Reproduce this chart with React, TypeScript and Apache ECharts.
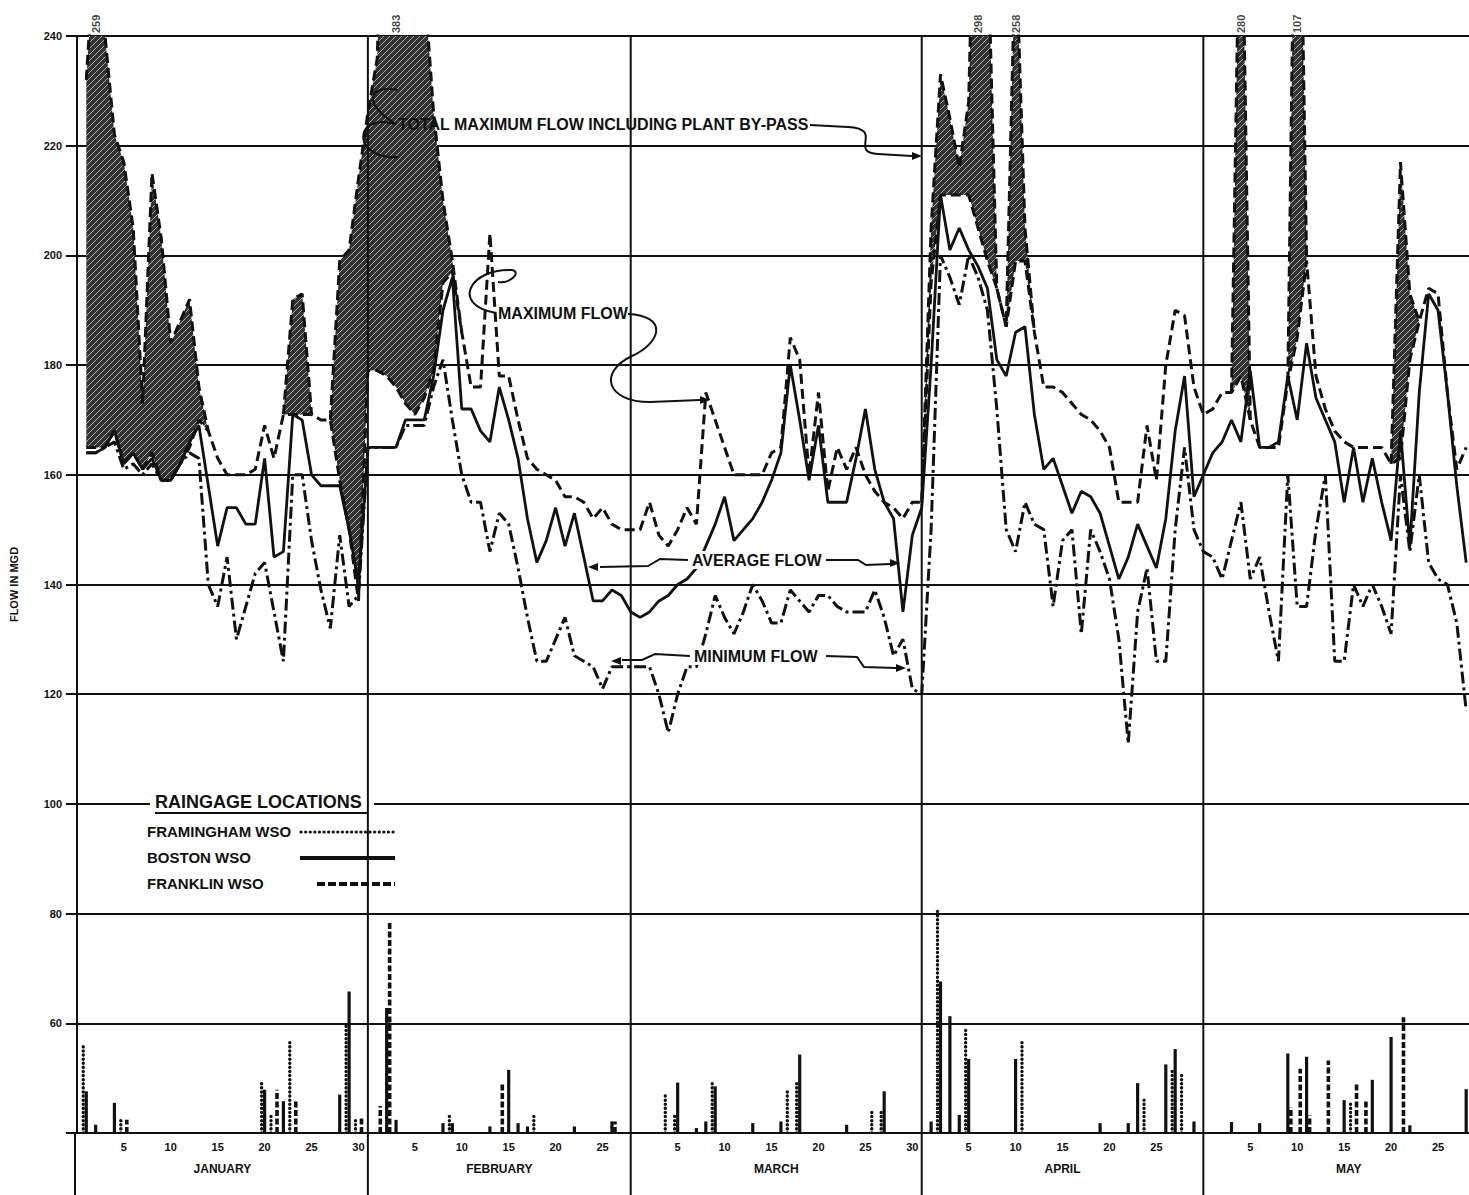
import React, { useEffect, useRef } from "react";
import * as echarts from "echarts";

// ---------- axes / calendar ----------
const monthNames = ["JANUARY", "FEBRUARY", "MARCH", "APRIL", "MAY"];
const monthLengths = [31, 28, 31, 30, 31];
const dayTickSteps = [5, 10, 15, 20, 25, 30];
const yMin = 40;
const yMax = 240;
const yStep = 20;
const xMin = -0.2;
const xMax = 148.3;
const rainBase = 40;

// ---------- flow series (MGD), one value per day from Jan 1 ----------
const totalMaxFlow = [
  // Jan
  232, 259, 240, 222, 217, 205, 173, 215, 203, 184, 188, 192, 176, 168, 163, 160, 160, 160, 161, 169, 163, 171, 192, 193, 171, 170, 170, 199, 201, 214, 226,
  // Feb
  236, 300, 383, 330, 280, 250, 226, 210, 199, 186, 176, 176, 204, 178, 178, 170, 163, 161, 160, 159, 156, 156, 155, 152, 154, 151, 150, 150,
  // Mar
  150, 155, 149, 147, 150, 154, 151, 175, 170, 165, 160, 160, 160, 160, 164, 165, 185, 181, 160, 175, 157, 165, 161, 165, 160, 157, 155, 154, 152, 155, 155,
  // Apr
  205, 233, 225, 216, 228, 298, 260, 194, 187, 258, 205, 186, 176, 176, 175, 173, 171, 170, 168, 165, 155, 155, 155, 169, 159, 180, 190, 189, 176, 171,
  // May
  172, 175, 175, 280, 170, 165, 165, 165, 177, 307, 199, 178, 172, 168, 166, 165, 165, 165, 165, 162, 217, 193, 188, 194, 193, 175, 161, 165,
];
const maxFlow = [
  165, 165, 165, 168, 162, 164, 161, 164, 159, 159, 162, 165, 170, 168, 163, 160, 160, 160, 161, 169, 163, 171, 171, 171, 171, 170, 170, 159, 150, 137, 179,
  179, 178, 176, 173, 171, 174, 179, 195, 197, 186, 176, 176, 204, 178, 178, 170, 163, 161, 160, 159, 156, 156, 155, 152, 154, 151, 150, 150,
  150, 155, 149, 147, 150, 154, 151, 175, 170, 165, 160, 160, 160, 160, 164, 165, 185, 181, 160, 175, 157, 165, 161, 165, 160, 157, 155, 154, 152, 155, 155,
  195, 211, 211, 211, 211, 205, 199, 194, 187, 199, 199, 186, 176, 176, 175, 173, 171, 170, 168, 165, 155, 155, 155, 169, 159, 180, 190, 189, 176, 171,
  172, 175, 175, 178, 170, 165, 165, 165, 177, 185, 199, 178, 172, 168, 166, 165, 165, 165, 165, 162, 163, 181, 188, 194, 193, 175, 161, 165,
];
const averageFlow = [
  164, 164, 165, 168, 162, 164, 161, 163, 159, 159, 162, 166, 169, 158, 147, 154, 154, 151, 151, 163, 145, 146, 171, 170, 160, 158, 158, 158, 150, 140, 165,
  165, 165, 165, 170, 170, 170, 178, 190, 196, 172, 172, 168, 166, 176, 170, 163, 152, 144, 148, 154, 147, 153, 145, 137, 137, 139, 138, 135,
  134, 135, 137, 138, 140, 141, 143, 147, 151, 156, 148, 150, 152, 155, 159, 164, 180, 170, 159, 169, 155, 155, 155, 163, 172, 161, 155, 152, 135, 149, 154,
  180, 211, 201, 205, 201, 198, 194, 181, 178, 186, 187, 171, 161, 163, 158, 153, 157, 156, 153, 147, 141, 145, 151, 147, 143, 152, 168, 178, 156, 160,
  164, 166, 170, 166, 179, 165, 165, 166, 178, 170, 184, 174, 170, 166, 155, 165, 155, 163, 155, 148, 168, 147, 175, 193, 190, 175, 158, 144,
];
const minimumFlow = [
  164, 164, 165, 166, 161, 162, 160, 162, 159, 159, 162, 164, 163, 140, 136, 145, 130, 136, 142, 144, 135, 126, 160, 160, 148, 139, 132, 149, 136, 138, 165,
  165, 165, 165, 169, 169, 169, 176, 181, 170, 160, 155, 155, 146, 153, 151, 143, 134, 126, 126, 130, 134, 127, 126, 125, 121, 125, 125, 125,
  125, 125, 120, 113, 120, 125, 125, 131, 138, 134, 131, 135, 140, 137, 133, 133, 139, 137, 135, 138, 138, 136, 135, 135, 135, 139, 134, 127, 130, 121, 120,
  150, 200, 196, 191, 200, 196, 190, 172, 150, 146, 155, 151, 150, 136, 148, 150, 131, 150, 146, 141, 130, 111, 135, 143, 126, 126, 150, 165, 150, 146,
  145, 141, 148, 155, 141, 145, 135, 126, 160, 136, 136, 150, 160, 126, 126, 140, 136, 140, 136, 131, 160, 146, 160, 144, 141, 140, 133, 117,
];

// off-scale peaks printed above the frame
const peakDays = [2, 34, 96, 100, 124, 130];
const peakLabels = ["259", "383", "298", "258", "280", "107"];

// ---------- raingage bars: [day of year, height above baseline] ----------
const framinghamRain = [
  [1, 15.8], [5, 2.4], [20, 9.1], [21, 3.6], [23, 17], [29, 20], [30, 2.7], [40, 3.6], [49, 3.3],
  [63, 7.3], [64, 3.0], [68, 9.7], [76, 7.6], [77, 9.1], [85, 4.0], [86, 4.0],
  [92, 41], [95, 19.1], [101, 17], [114, 6.7], [117, 11.5], [118, 10.6], [136, 5.3],
];
const bostonRain = [
  [1, 7.6], [2, 1.5], [4, 5.5], [20, 7.9], [22, 5.8], [28, 7], [29, 25.8],
  [33, 22.8], [34, 2.4], [39, 1.8], [40, 1.8], [44, 1.2], [46, 11.5], [47, 1.8], [48, 1.2], [53, 1.2], [57, 2.1],
  [64, 9.2], [66, 0.9], [67, 2.1], [68, 8.5], [72, 1.8], [75, 2.1], [77, 14.3], [82, 1.5], [86, 7.6], [91, 2.1],
  [92, 27.6], [93, 21.3], [94, 3.3], [95, 13.5], [100, 13.5], [109, 1.8], [112, 1.8], [113, 9.1], [116, 12.5], [117, 15.3], [119, 2.1],
  [123, 2], [126, 1.8], [129, 14.5], [131, 13.9], [135, 6], [138, 9.7], [140, 17.5], [142, 1.4], [148, 8],
];
const franklinRain = [
  [5, 2.4], [21, 7.9], [23, 6.1], [30, 2.7], [32, 4.9], [33, 38.3], [45, 9.1], [57, 2.1],
  [129, 4.7], [130, 11.7], [131, 3.2], [133, 13.2], [136, 9], [137, 6], [141, 21.1],
];

const INK = "#111111";
const FONT = "'Liberation Sans', Arial, sans-serif";

function makeHatch() {
  const c = document.createElement("canvas");
  c.width = 6;
  c.height = 6;
  const g = c.getContext("2d")!;
  g.fillStyle = "#333333";
  g.fillRect(0, 0, 6, 6);
  g.strokeStyle = "#a8a8a8";
  g.lineWidth = 1;
  g.beginPath();
  g.moveTo(0, 6);
  g.lineTo(6, 0);
  g.moveTo(-1, 1);
  g.lineTo(1, -1);
  g.moveTo(5, 7);
  g.lineTo(7, 5);
  g.stroke();
  return c.toDataURL();
}

export default function App() {
  const ref = useRef<HTMLDivElement>(null);

  useEffect(() => {
    const el = ref.current!;
    const chart = echarts.init(el, null, { renderer: "svg" });

    const monthStarts: number[] = [];
    monthLengths.reduce((acc, len) => {
      monthStarts.push(acc);
      return acc + len;
    }, 0);
    const dayTickValues: number[] = [];
    const dayTickText: Record<string, string> = {};
    monthStarts.forEach((s, m) => {
      dayTickSteps.forEach((t) => {
        if (t < monthLengths[m] && s + t <= xMax) {
          dayTickValues.push(s + t);
          dayTickText[String(s + t)] = String(t);
        }
      });
    });
    const monthMids = monthStarts.map((s, m) => s + monthLengths[m] / 2);
    const monthBoundaries = monthStarts.slice(1);

    const days = totalMaxFlow.map((_, i) => i + 1);
    const n = days.length;
    const hasBypass = (i: number) => i >= 0 && i < n && totalMaxFlow[i] > maxFlow[i];
    const totalLine = days.map((d, i) =>
      hasBypass(i) || hasBypass(i - 1) || hasBypass(i + 1) ? [d, totalMaxFlow[i]] : [d, null]
    );
    // contiguous by-pass runs (index ranges), widened by one day to meet the max-flow line
    const bypassRuns: number[][] = [];
    for (let i = 0; i < n; ) {
      if (hasBypass(i)) {
        let j = i;
        while (j + 1 < n && hasBypass(j + 1)) j++;
        bypassRuns.push([Math.max(0, i - 1), Math.min(n - 1, j + 1)]);
        i = j + 1;
      } else i++;
    }

    const hatch = makeHatch();
    const hatchFill = { image: hatch, repeat: "repeat", imageWidth: 6, imageHeight: 6 };

    const rainSeries = (name: string, data: number[][], offset: number, dash: number[] | null, width: number, cap: string) => ({
      type: "custom",
      name,
      data,
      z: 4,
      clip: true,
      renderItem: (_p: any, api: any) => {
        const base = api.coord([api.value(0), rainBase]);
        const top = api.coord([api.value(0), rainBase + api.value(1)]);
        return {
          type: "line",
          shape: { x1: base[0] + offset, y1: base[1], x2: top[0] + offset, y2: top[1] },
          style: { stroke: INK, lineWidth: width, lineDash: dash, lineCap: cap },
        };
      },
    });

    const axisFont = { color: INK, fontFamily: FONT, fontWeight: "bold" as const };

    const option: any = {
      animation: false,
      backgroundColor: "#ffffff",
      grid: { left: 73, right: 0, top: 36, bottom: 62, containLabel: false },
      xAxis: [
        {
          type: "value",
          min: xMin,
          max: xMax,
          position: "bottom",
          axisLine: { show: true, lineStyle: { color: INK, width: 2 } },
          axisTick: { show: false },
          splitLine: { show: false },
          axisLabel: {
            ...axisFont,
            fontSize: 11,
            margin: 8,
            customValues: dayTickValues,
            formatter: (v: number) => dayTickText[String(v)] ?? "",
          },
        },
        {
          type: "value",
          min: xMin,
          max: xMax,
          position: "bottom",
          offset: 22,
          axisLine: { show: false },
          axisTick: { show: false },
          splitLine: { show: false },
          axisLabel: {
            ...axisFont,
            fontSize: 12,
            margin: 8,
            customValues: monthMids,
            formatter: (v: number) => {
              const idx = monthMids.findIndex((m) => Math.abs(m - v) < 0.01);
              return idx >= 0 ? monthNames[idx] : "";
            },
          },
        },
      ],
      yAxis: {
        type: "value",
        min: yMin,
        max: yMax,
        interval: yStep,
        name: "FLOW IN MGD",
        nameLocation: "middle",
        nameGap: 56,
        nameRotate: 90,
        nameTextStyle: { ...axisFont, fontSize: 11 },
        axisLine: { show: true, lineStyle: { color: INK, width: 2 } },
        axisTick: { show: true, length: 11, lineStyle: { color: INK, width: 2 } },
        axisLabel: {
          ...axisFont,
          fontSize: 11,
          margin: 13,
          formatter: (v: number) => (v === yMin ? "" : String(v)),
        },
        splitLine: { show: true, lineStyle: { color: INK, width: 2 } },
      },
      series: [
        {
          type: "custom",
          name: "plant by-pass",
          data: bypassRuns.map(([a, b]) => [days[a], days[b]]),
          clip: true,
          silent: true,
          z: 1,
          renderItem: (_p: any, api: any) => {
            const a = api.value(0) - 1;
            const b = api.value(1) - 1;
            const pts: number[][] = [];
            for (let k = a; k <= b; k++) pts.push(api.coord([days[k], totalMaxFlow[k]]));
            for (let k = b; k >= a; k--) pts.push(api.coord([days[k], maxFlow[k]]));
            return { type: "polygon", shape: { points: pts }, style: { fill: hatchFill, stroke: null } };
          },
        },
        {
          type: "line",
          name: "Maximum flow",
          data: days.map((d, i) => [d, maxFlow[i]]),
          symbol: "none",
          lineStyle: { color: INK, width: 3, type: [10, 5] },
          z: 3,
        },
        {
          type: "line",
          name: "Average flow",
          data: days.map((d, i) => [d, averageFlow[i]]),
          symbol: "none",
          lineStyle: { color: INK, width: 2.8 },
          z: 3,
        },
        {
          type: "line",
          name: "Minimum flow",
          data: days.map((d, i) => [d, minimumFlow[i]]),
          symbol: "none",
          lineStyle: { color: INK, width: 3, type: [12, 4, 3, 4] },
          z: 3,
        },
        {
          type: "line",
          name: "Total maximum flow",
          data: totalLine,
          connectNulls: false,
          symbol: "none",
          lineStyle: { color: INK, width: 3, type: [10, 5] },
          z: 3,
        },
        {
          type: "scatter",
          name: "peaks",
          data: peakDays.map((d) => [d, yMax]),
          symbolSize: 0,
          clip: false,
          silent: true,
          label: {
            show: true,
            position: "top",
            distance: 3,
            rotate: 90,
            align: "left",
            verticalAlign: "middle",
            formatter: (p: any) => peakLabels[p.dataIndex],
            color: INK,
            fontFamily: FONT,
            fontWeight: "bold",
            fontSize: 11,
            textBorderWidth: 0,
          },
          z: 6,
        },
        rainSeries("FRAMINGHAM WSO", framinghamRain, -3, [0.1, 4], 3.4, "round"),
        rainSeries("BOSTON WSO", bostonRain, 0, null, 3.2, "butt"),
        rainSeries("FRANKLIN WSO", franklinRain, 3, [6, 2.5], 3.6, "butt"),
      ],
    };

    chart.setOption(option);

    const px = (d: number) => chart.convertToPixel({ xAxisIndex: 0 }, d) as number;
    const py = (v: number) => chart.convertToPixel({ yAxisIndex: 0 }, v) as number;
    const topY = py(yMax);
    const baseY = py(yMin);
    const bottomY = 1195;

    const els: any[] = [];
    const line = (x1: number, y1: number, x2: number, y2: number, w = 2, dash: any = null, cap = "butt") =>
      els.push({ type: "line", z: 20, silent: true, shape: { x1, y1, x2, y2 }, style: { stroke: INK, lineWidth: w, lineDash: dash, lineCap: cap } });
    const curve = (x1: number, y1: number, c1x: number, c1y: number, c2x: number, c2y: number, x2: number, y2: number) =>
      els.push({ type: "bezierCurve", z: 20, silent: true, shape: { x1, y1, cpx1: c1x, cpy1: c1y, cpx2: c2x, cpy2: c2y, x2, y2 }, style: { stroke: INK, lineWidth: 2, fill: null } });
    const poly = (pts: number[][]) =>
      els.push({ type: "polyline", z: 20, silent: true, shape: { points: pts }, style: { stroke: INK, lineWidth: 2, fill: null } });
    const arrow = (tx: number, ty: number, dir: number) =>
      els.push({ type: "polygon", z: 20, silent: true, shape: { points: [[tx, ty], [tx - 10 * dir, ty - 4], [tx - 10 * dir, ty + 4]] }, style: { fill: INK } });
    const text = (s: string, x: number, y: number, size: number, bg = false) =>
      els.push({
        type: "text",
        z: 21,
        silent: true,
        x,
        y,
        style: {
          text: s,
          fill: INK,
          font: `bold ${size}px ${FONT}`,
          textAlign: "left",
          textVerticalAlign: "middle",
          backgroundColor: bg ? "#ffffff" : undefined,
          padding: bg ? [1, 2] : undefined,
        },
      });

    // month divisions through the whole frame and the label band
    monthBoundaries.forEach((d) => line(px(d), topY, px(d), bottomY, 2));
    line(px(xMin), baseY, px(xMin), bottomY, 2);

    // raingage legend
    els.push({ type: "rect", z: 19, silent: true, shape: { x: 150, y: 793, width: 224, height: 19 }, style: { fill: "#ffffff" } });
    text("RAINGAGE LOCATIONS", 155, 802, 18);
    line(155, 813, 367, 813, 2);
    text("FRAMINGHAM WSO", 147, 831, 15);
    text("BOSTON WSO", 147, 857, 15);
    text("FRANKLIN WSO", 147, 883, 15);
    line(301, 832, 395, 832, 3.2, [0.1, 4.5], "round");
    line(300, 858, 395, 858, 4);
    line(317, 884, 395, 884, 4, [8, 3]);

    // annotation: total maximum flow
    text("TOTAL MAXIMUM FLOW INCLUDING PLANT BY-PASS", 398, 124, 16);
    curve(396, 124, 352, 112, 352, 160, 398, 157);
    curve(396, 124, 362, 104, 368, 84, 398, 90);
    poly([[810, 125], [848, 127]]);
    curve(848, 127, 885, 129, 848, 152, 878, 154);
    poly([[878, 154], [912, 156]]);
    arrow(922, 156, 1);

    // annotation: maximum flow
    text("MAXIMUM FLOW", 498, 313, 16);
    curve(496, 313, 450, 305, 470, 268, 512, 270);
    curve(512, 270, 522, 272, 510, 284, 498, 282);
    curve(628, 314, 668, 316, 662, 342, 632, 356);
    curve(632, 356, 598, 372, 606, 402, 650, 402);
    poly([[650, 402], [700, 400]]);
    arrow(710, 400, 1);

    // annotation: average flow
    text("AVERAGE FLOW", 690, 560, 16, true);
    poly([[688, 560], [660, 559], [648, 566], [600, 567]]);
    arrow(588, 567, -1);
    poly([[826, 560], [858, 560], [866, 565], [890, 564]]);
    arrow(900, 563, 1);

    // annotation: minimum flow
    text("MINIMUM FLOW", 692, 656, 16, true);
    poly([[690, 656], [655, 654], [642, 660], [622, 660]]);
    arrow(611, 661, -1);
    poly([[826, 656], [857, 657], [864, 667], [896, 668]]);
    arrow(906, 668, 1);

    chart.setOption({ graphic: { elements: els } });

    return () => chart.dispose();
  }, []);

  return (
    <div
      ref={ref}
      style={{ position: "absolute", left: 0, top: 0, width: 1469, height: 1195, background: "#ffffff" }}
    />
  );
}
